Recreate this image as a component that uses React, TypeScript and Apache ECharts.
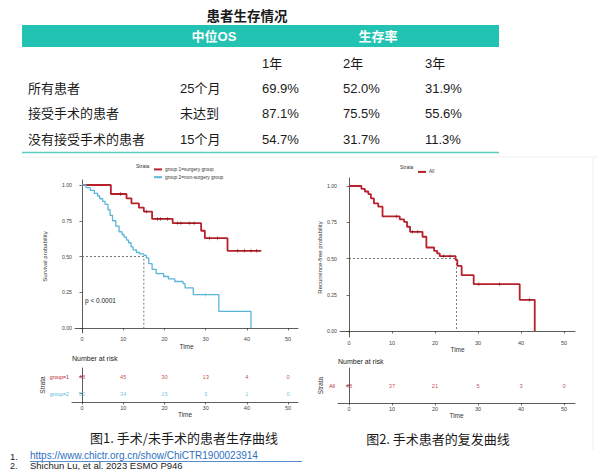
import React, { useEffect, useRef } from "react";
import * as echarts from "echarts";

// ---------- table data ----------
const titleText = "患者生存情况";
const headerMedian = "中位OS";
const headerRate = "生存率";
const yearLabels = ["1年", "2年", "3年"];
const groupNames = ["所有患者", "接受手术的患者", "没有接受手术的患者"];
const medianOS = ["25个月", "未达到", "15个月"];
const rate1y = ["69.9%", "87.1%", "54.7%"];
const rate2y = ["52.0%", "75.5%", "31.7%"];
const rate3y = ["31.9%", "55.6%", "11.3%"];

// ---------- chart data ----------
const timeTicks = [0, 10, 20, 30, 40, 50];
const probTicks = [0, 0.25, 0.5, 0.75, 1];

const surgName = "group 1=surgery group";
const nonSurgName = "group 2=non-surgery group";
const allName = "All";

const surgT = [0, 7, 10.8, 12, 13.8, 15, 17, 22, 28.9, 29.8, 35.3, 43.5];
const surgS = [1, 0.937, 0.907, 0.872, 0.842, 0.814, 0.763, 0.733, 0.68, 0.628, 0.54, 0.54];
const surgCensorT = [9.3, 15.6, 18.3, 19.1, 20.7, 23.2, 24, 26, 27.2, 30.9, 32.9, 37.8, 39.4, 41, 42.3];
const surgCensorS = [0.937, 0.814, 0.763, 0.763, 0.763, 0.733, 0.733, 0.733, 0.733, 0.628, 0.628, 0.54, 0.54, 0.54, 0.54];

const nonSurgT = [0, 1, 2, 3, 3.8, 4.3, 5, 5.6, 6.3, 6.8, 7.4, 8.2, 9, 9.7, 10.2, 10.8, 11.3, 11.9, 12.4, 13.2, 14, 15, 15.6, 16.2, 17, 18, 19.8, 21, 22.5, 24.5, 25, 27, 33.2, 41];
const nonSurgS = [1, 0.981, 0.962, 0.942, 0.923, 0.904, 0.885, 0.865, 0.827, 0.788, 0.75, 0.712, 0.673, 0.654, 0.635, 0.615, 0.596, 0.567, 0.547, 0.528, 0.518, 0.508, 0.49, 0.45, 0.41, 0.38, 0.36, 0.343, 0.325, 0.31, 0.28, 0.233, 0.116, 0];
const nonSurgCensorT = [30];
const nonSurgCensorS = [0.233];

const rfsT = [0, 2.9, 3.7, 4.5, 5.1, 5.8, 6.8, 7.8, 11.8, 12.8, 13.5, 14.2, 17.1, 18, 19.8, 20.5, 21.1, 24.8, 25.2, 26.2, 29, 39.7, 43.2];
const rfsS = [1, 0.98, 0.962, 0.944, 0.915, 0.88, 0.857, 0.79, 0.77, 0.753, 0.719, 0.684, 0.65, 0.576, 0.553, 0.535, 0.516, 0.49, 0.449, 0.385, 0.323, 0.215, 0];
const rfsCensorT = [11, 14.8, 16, 22, 23.5, 30.2, 35, 42];
const rfsCensorS = [0.79, 0.684, 0.684, 0.516, 0.516, 0.323, 0.323, 0.215];

const medianSurvTime = 15;
const medianRfsTime = 25;

const riskTimes = [0, 10, 20, 30, 40, 50];
const riskGroup1 = [48, 45, 30, 13, 4, 0];
const riskGroup2 = [52, 34, 15, 3, 1, 0];
const riskAll = [48, 37, 21, 5, 3, 0];

const pValueText = "p < 0.0001";
const caption1 = "图1. 手术/未手术的患者生存曲线";
const caption2 = "图2. 手术患者的复发曲线";
const footLink = "https://www.chictr.org.cn/show/ChiCTR1900023914";
const footRef = "Shichun Lu, et al. 2023 ESMO P946";

// ---------- styles ----------
const RED = "#b8202c";
const RED_DARK = "#6e1218";
const BLUE = "#5bb5d8";
const TEAL = "#22c3b3";
const FONT = "'Liberation Sans', 'Noto Sans CJK SC', sans-serif";
const CJK = "'Noto Sans CJK SC', 'Liberation Sans', sans-serif";
const PLUS = "path://M4.3,0H5.7V4.3H10V5.7H5.7V10H4.3V5.7H0V4.3H4.3Z";

const zip = (a: number[], b: number[]) => a.map((v, i) => [v, b[i]]);

function txt(x: number, y: number, text: string, size: number, opts: any = {}) {
  return {
    type: "text",
    x,
    y,
    silent: true,
    style: {
      text,
      fill: opts.fill || "#1a1a1a",
      fontSize: size,
      fontFamily: opts.family || FONT,
      fontWeight: opts.weight || "normal",
      textAlign: opts.align || "left",
      align: opts.align || "left",
      textVerticalAlign: "middle",
      verticalAlign: "middle",
    },
  };
}

function valueX(min: number, max: number, grid: number, name: string, gap: number) {
  return {
    type: "value",
    gridIndex: grid,
    min,
    max,
    name,
    nameLocation: "middle",
    nameGap: gap,
    nameTextStyle: { fontSize: 6.5, color: "#333", fontFamily: FONT },
    axisLine: { show: true, lineStyle: { color: "#333", width: 0.8 } },
    axisTick: { show: true, length: 2.5, customValues: timeTicks, lineStyle: { color: "#333", width: 0.7 } },
    axisLabel: { customValues: timeTicks, fontSize: 5.5, color: "#444", margin: 3, fontFamily: FONT },
    splitLine: { show: false },
  };
}

function probY(min: number, max: number, grid: number, name: string, gap: number) {
  return {
    type: "value",
    gridIndex: grid,
    min,
    max,
    name,
    nameLocation: "middle",
    nameGap: gap,
    nameRotate: 90,
    nameTextStyle: { fontSize: 6, color: "#333", fontFamily: FONT },
    axisLine: { show: true, lineStyle: { color: "#333", width: 0.8 } },
    axisTick: { show: true, length: 2.5, customValues: probTicks, lineStyle: { color: "#333", width: 0.7 } },
    axisLabel: {
      customValues: probTicks,
      fontSize: 5.2,
      color: "#444",
      margin: 3,
      fontFamily: FONT,
      formatter: (v: number) => v.toFixed(2),
    },
    splitLine: { show: false },
  };
}

function riskY(grid: number, cats: string[], colors: string[], gap: number) {
  return {
    type: "category",
    gridIndex: grid,
    data: cats,
    name: "Strata",
    nameLocation: "middle",
    nameGap: gap,
    nameRotate: 90,
    nameTextStyle: { fontSize: 6.5, color: "#333", fontFamily: FONT },
    axisLine: { show: true, lineStyle: { color: "#333", width: 0.8 } },
    axisTick: { show: true, length: 2.5, alignWithLabel: true, lineStyle: { color: "#333", width: 0.7 } },
    axisLabel: {
      fontSize: 5.2,
      margin: 3,
      fontFamily: FONT,
      color: (_v: any, i: number) => colors[i],
    },
    splitLine: { show: false },
  };
}

function riskSeries(xi: number, cat: string, vals: number[], color: string) {
  return {
    type: "scatter",
    xAxisIndex: xi,
    yAxisIndex: xi,
    symbolSize: 0,
    silent: true,
    data: riskTimes.map((t, i) => [t, cat, vals[i]]),
    label: {
      show: true,
      position: "inside",
      formatter: (p: any) => String(p.data[2]),
      fontSize: 5.8,
      color,
      fontFamily: FONT,
    },
  };
}

function kmLine(name: string, xi: number, t: number[], s: number[], color: string, width: number) {
  return {
    type: "line",
    name,
    xAxisIndex: xi,
    yAxisIndex: xi,
    step: "end",
    showSymbol: false,
    symbol: "none",
    data: zip(t, s),
    lineStyle: { color, width },
    itemStyle: { color },
    z: 3,
  };
}

function censor(name: string, xi: number, t: number[], s: number[], color: string) {
  return {
    type: "scatter",
    name,
    xAxisIndex: xi,
    yAxisIndex: xi,
    symbol: PLUS,
    symbolSize: 4,
    data: zip(t, s),
    itemStyle: { color },
    z: 4,
  };
}

function medianLine(xi: number, tm: number) {
  return {
    type: "line",
    xAxisIndex: xi,
    yAxisIndex: xi,
    showSymbol: false,
    symbol: "none",
    silent: true,
    data: [
      [0, 0.5],
      [tm, 0.5],
      [tm, 0],
    ],
    lineStyle: { color: "#555", width: 0.8, type: [2, 2] },
    z: 2,
  };
}

export default function App() {
  const ref = useRef<HTMLDivElement>(null);

  useEffect(() => {
    document.body.style.margin = "0";
    const chart = echarts.init(ref.current!, undefined, { renderer: "svg" });

    const colX = [28, 180, 262, 343, 425];
    const rowY = [88, 113, 139];
    const graphics: any[] = [];
    graphics.push(txt(247, 15, titleText, 13.5, { align: "center", weight: "bold", family: CJK }));
    graphics.push({ type: "rect", shape: { x: 22, y: 25, width: 477, height: 22 }, style: { fill: TEAL }, silent: true });
    graphics.push(txt(214, 36, headerMedian, 13, { align: "center", weight: "bold", fill: "#fff" }));
    graphics.push(txt(378, 36, headerRate, 13, { align: "center", weight: "bold", fill: "#fff" }));
    yearLabels.forEach((y, i) => graphics.push(txt(colX[2 + i], 63, y, 13)));
    groupNames.forEach((g, r) => {
      graphics.push(txt(colX[0], rowY[r], g, 13));
      graphics.push(txt(colX[1], rowY[r], medianOS[r], 13));
      graphics.push(txt(colX[2], rowY[r], rate1y[r], 13));
      graphics.push(txt(colX[3], rowY[r], rate2y[r], 13));
      graphics.push(txt(colX[4], rowY[r], rate3y[r], 13));
    });
    graphics.push({ type: "line", shape: { x1: 22, y1: 152.5, x2: 499, y2: 152.5 }, style: { stroke: "#5cc9bd", lineWidth: 1.5 }, silent: true });
    // faint panel edges
    graphics.push({ type: "line", shape: { x1: 22, y1: 157, x2: 598, y2: 157 }, style: { stroke: "#f0f0f0", lineWidth: 1 }, silent: true });
    graphics.push({ type: "line", shape: { x1: 593, y1: 157, x2: 593, y2: 450 }, style: { stroke: "#eeeeee", lineWidth: 1 }, silent: true });
    // legend titles
    graphics.push(txt(136, 165.5, "Strata", 5, { fill: "#333" }));
    graphics.push(txt(400, 167, "Strata", 5, { fill: "#333" }));
    graphics.push(txt(85, 300, pValueText, 6.5, { fill: "#222" }));
    graphics.push(txt(72, 358, "Number at risk", 7, { fill: "#222" }));
    graphics.push(txt(338, 361, "Number at risk", 7, { fill: "#222" }));
    graphics.push(txt(184, 437, caption1, 13, { align: "center", family: CJK }));
    graphics.push(txt(438, 438, caption2, 13, { align: "center", family: CJK }));
    graphics.push(txt(10, 456, "1.", 9.5, { fill: "#222" }));
    graphics.push(txt(30, 455.5, footLink, 10, { fill: "#2d6fbf" }));
    graphics.push({ type: "line", shape: { x1: 30, y1: 461.5, x2: 302, y2: 461.5 }, style: { stroke: "#2d6fbf", lineWidth: 0.8 }, silent: true });
    graphics.push(txt(10, 465.5, "2.", 9, { fill: "#222" }));
    graphics.push(txt(30, 465.5, footRef, 9.5, { fill: "#222" }));

    chart.setOption({
      animation: false,
      backgroundColor: "#ffffff",
      grid: [
        { left: 75, top: 180, width: 223, height: 153 },
        { left: 72, top: 368, width: 226, height: 34 },
        { left: 340, top: 178, width: 235, height: 159 },
        { left: 338, top: 368, width: 237, height: 35 },
      ],
      legend: [
        {
          data: [surgName, nonSurgName],
          left: 149,
          top: 162,
          orient: "vertical",
          itemWidth: 8,
          itemHeight: 2,
          itemGap: 3,
          icon: "rect",
          textStyle: { fontSize: 4.8, color: "#333", fontFamily: FONT, padding: [0, 0, 0, -2] },
        },
        {
          data: [allName],
          left: 413,
          top: 164.5,
          itemWidth: 8,
          itemHeight: 2,
          icon: "rect",
          textStyle: { fontSize: 4.8, color: "#333", fontFamily: FONT, padding: [0, 0, 0, -2] },
        },
      ],
      xAxis: [
        valueX(-1.7, 52.4, 0, "Time", 10),
        valueX(-2.43, 52.4, 1, "Time", 9),
        valueX(-2.09, 52.56, 2, "Time", 9),
        valueX(-2.56, 52.56, 3, "Time", 9),
      ],
      yAxis: [
        probY(-0.035, 1.035, 0, "Survival probability", 27),
        riskY(1, ["group=2", "group=1"], [BLUE, RED], 22),
        probY(-0.041, 1.055, 2, "Recurrence-free probability", 14),
        riskY(3, ["All"], [RED], 14),
      ],
      series: [
        kmLine(surgName, 0, surgT, surgS, RED, 1.8),
        kmLine(nonSurgName, 0, nonSurgT, nonSurgS, BLUE, 1.3),
        censor("c1", 0, surgCensorT, surgCensorS, RED_DARK),
        censor("c2", 0, nonSurgCensorT, nonSurgCensorS, BLUE),
        medianLine(0, medianSurvTime),
        riskSeries(1, "group=1", riskGroup1, RED),
        riskSeries(1, "group=2", riskGroup2, BLUE),
        kmLine(allName, 2, rfsT, rfsS, RED, 1.8),
        censor("c3", 2, rfsCensorT, rfsCensorS, RED_DARK),
        medianLine(2, medianRfsTime),
        riskSeries(3, "All", riskAll, RED),
      ],
      graphic: graphics,
    });

    return () => chart.dispose();
  }, []);

  return <div ref={ref} style={{ width: 600, height: 471 }} />;
}
